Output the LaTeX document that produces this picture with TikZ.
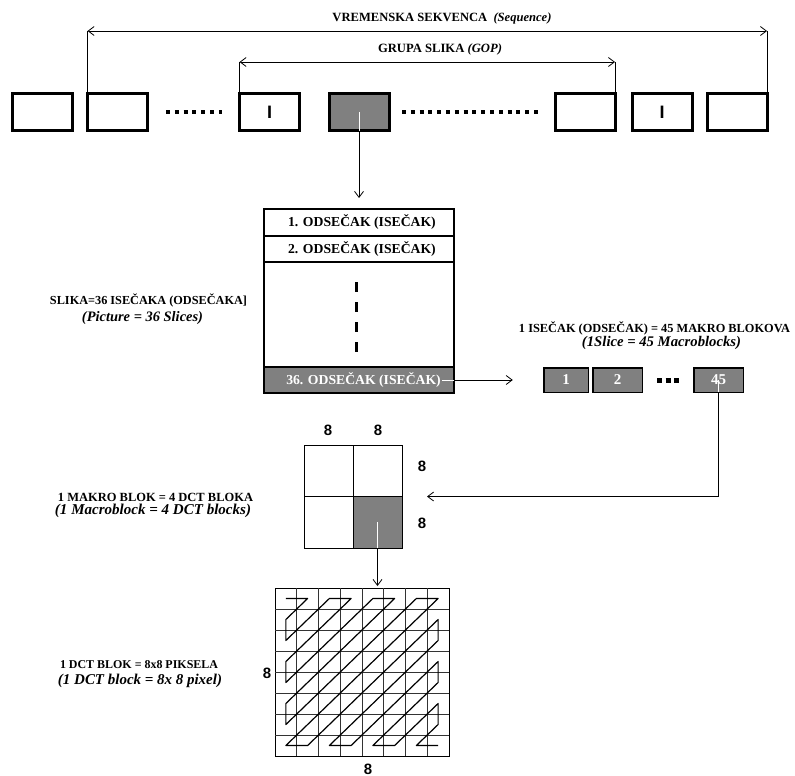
\documentclass[tikz,border=0pt]{standalone}
\usepackage{fontspec}
\setmainfont{Liberation Serif}
\newfontfamily\arialb{Liberation Sans}
\usepackage{graphicx}
\usetikzlibrary{arrows.meta}
\definecolor{boxgray}{RGB}{128,128,128}
\newcommand\fw[2]{\resizebox{#1pt}{!}{#2}}
\begin{document}
\begin{tikzpicture}[x=1pt,y=-1pt,
  frame/.style={draw, line width=3pt, minimum width=60pt, minimum height=37pt, inner sep=0pt, outer sep=0pt},
  row/.style={draw, line width=1.5pt, minimum width=190pt, inner sep=0pt, outer sep=0pt},
  rowtxt/.style={font=\fontsize{13.7}{15}\selectfont\bfseries, inner sep=1pt, anchor=east},
  mblk/.style={draw, line width=1.5pt, fill=boxgray, minimum height=24.5pt, inner sep=0pt, outer sep=0pt, text=white, font=\fontsize{15}{15}\selectfont\bfseries},
  lbl/.style={inner sep=0pt, font=\bfseries},
  eight/.style={inner sep=0pt, font=\arialb\fontsize{15}{15}\selectfont\bfseries},
  ibar/.style={inner sep=0pt, font=\arialb\fontsize{18}{18}\selectfont\bfseries},
  conn/.style={line width=0.8pt, -{Straight Barb[length=6pt,width=9pt]}},
  bar/.style={line width=0.8pt},
  dotrow/.style={line width=4pt, dash pattern=on 4pt off 4.8pt},
]
\useasboundingbox[fill=white] (0,0) rectangle (795,776);

% top frames
\node[frame] (f1) at (42.5,112) {};
\node[frame] (f2) at (117.5,112) {};
\node[frame] (f3) at (269.5,112) {};
\node[frame, fill=boxgray] (f4) at (359,112) {};
\node[frame] (f5) at (585,112) {};
\node[frame] (f6) at (662,112) {};
\node[frame] (f7) at (737,112) {};
\node[ibar] (i3) at (f3.center) {I};
\node[ibar] (i6) at (f6.center) {I};
\draw[dotrow] (166,112) -- (222,112);
\draw[dotrow] (402,112) -- (538,112);

% sequence and GOP spans
\coordinate (seqy) at (0,31);
\coordinate (gopy) at (0,62);
\coordinate (sl) at (f2.north west |- seqy);
\coordinate (sr) at (f7.north east |- seqy);
\coordinate (gl) at (f3.north west |- gopy);
\coordinate (gr) at (f5.north east |- gopy);
\draw[bar] (f2.north west) -- (sl);
\draw[bar] (f7.north east) -- (sr);
\draw[bar] (f3.north west) -- (gl);
\draw[bar] (f5.north east) -- (gr);
\draw[line width=0.8pt, {Straight Barb[length=6pt,width=9pt]}-{Straight Barb[length=6pt,width=9pt]}] (sl) -- (sr);
\draw[line width=0.8pt, {Straight Barb[length=6pt,width=9pt]}-{Straight Barb[length=6pt,width=9pt]}] (gl) -- (gr);
\node[lbl] (tseq) at (442,18) {\fw{219}{\textbf{VREMENSKA SEKVENCA\ \ \textit{(Sequence)}}}};
\node[lbl] (tgop) at (440,49) {\fw{124}{\textbf{GRUPA SLIKA \textit{(GOP)}}}};

% picture block
\node[row, minimum height=27pt] (s1) at (359,222.5) {};
\node[row, minimum height=26pt] (s2) at (359,249) {};
\node[row, minimum height=105pt] (sm) at (359,314.5) {};
\node[row, minimum height=26pt, fill=boxgray] (s36) at (359,380) {};
\node[rowtxt] (t1) at (437,222.5) {1. ODSEČAK (ISEČAK)};
\node[rowtxt] (t2) at (437,249) {2. ODSEČAK (ISEČAK)};
\node[rowtxt, text=white] (t36) at (442,380) {36. ODSEČAK (ISEČAK)};
\draw[line width=3pt, dash pattern=on 10pt off 10pt] (356,282) -- (356,352);

\node[lbl] (ls1) at (148.5,300) {\fw{197}{\textbf{SLIKA=36 ISEČAKA (ODSEČAKA]}}};
\node[lbl] (ls2) at (142.5,318) {\fw{121}{\textbf{\textit{(Picture = 36 Slices)}}}};

% macroblocks
\node[mblk, minimum width=44.5pt] (m1) at (566,380) {1};
\node[mblk, minimum width=49.5pt] (m2) at (617.5,380) {2};
\node[mblk, minimum width=49.5pt] (m45) at (718.5,380) {45};
\draw[line width=5pt, dash pattern=on 5pt off 3.5pt] (657,380) -- (679,380);
\node[lbl] (li1) at (654.5,328) {\fw{271}{\textbf{1 ISEČAK (ODSEČAK) = 45 MAKRO BLOKOVA}}};
\node[lbl] (li2) at (661.5,343) {\fw{159}{\textbf{\textit{(1Slice = 45 Macroblocks)}}}};

% macroblock = 4 DCT blocks
\node[fill=boxgray, minimum width=49pt, minimum height=52pt, inner sep=0pt, outer sep=0pt] (gc) at (377.5,522) {};
\node[draw, line width=1pt, minimum width=98pt, minimum height=103pt, inner sep=0pt, outer sep=0pt] (mb) at (353,496.5) {};
\draw[line width=1pt] (mb.north) -- (mb.south);
\draw[line width=1pt] (mb.west) -- (mb.east);
\node[eight] (e1) at (328,430) {8};
\node[eight] (e2) at (378,430) {8};
\node[eight] (e3) at (422,466) {8};
\node[eight] (e4) at (422,523) {8};
\node[lbl] (lm1) at (155.5,497) {\fw{195}{\textbf{1 MAKRO BLOK = 4 DCT BLOKA}}};
\node[lbl] (lm2) at (153,511) {\fw{196}{\textbf{\textit{(1 Macroblock = 4 DCT blocks)}}}};

% DCT block
\node[draw, line width=1pt, minimum width=174pt, minimum height=168pt, inner sep=0pt, outer sep=0pt] (dct) at (362,672) {};
\begin{scope}[shift={(275,588)}, x=21.75pt, y=-21pt]
  \foreach \i in {1,...,7} {
    \draw[line width=1pt, black!80] (\i,0) -- (\i,8);
    \draw[line width=1pt, black!80] (0,\i) -- (8,\i);
  }
  \draw[line width=1.2pt, black, line join=round]
    (0.5,0.5) -- (1.5,0.5) -- (0.5,1.5) -- (0.5,2.5) -- (2.5,0.5) -- (3.5,0.5)
    -- (0.5,3.5) -- (0.5,4.5) -- (4.5,0.5) -- (5.5,0.5) -- (0.5,5.5) -- (0.5,6.5)
    -- (6.5,0.5) -- (7.5,0.5) -- (0.5,7.5) -- (1.5,7.5) -- (7.5,1.5) -- (7.5,2.5)
    -- (2.5,7.5) -- (3.5,7.5) -- (7.5,3.5) -- (7.5,4.5) -- (4.5,7.5) -- (5.5,7.5)
    -- (7.5,5.5) -- (7.5,6.5) -- (6.5,7.5) -- (7.5,7.5);
\end{scope}
\node[eight] (e5) at (267,673) {8};
\node[eight] (e6) at (368,769) {8};
\node[lbl] (ld1) at (139,665) {\fw{158}{\textbf{1 DCT BLOK = 8x8 PIKSELA}}};
\node[lbl] (ld2) at (140,681) {\fw{164}{\textbf{\textit{(1 DCT block = 8x 8 pixel)}}}};

% connectors
\draw[white, line width=0.8pt] (f4.center) -- (f4.south);
\draw[conn, shorten >=11pt] (f4.south) -- (s1.north);
\draw[white, line width=0.8pt] (t36.east) -- (s36.east);
\draw[conn, shorten >=31pt] (s36.east) -- (m1.west);
\draw[white, line width=0.8pt] (m45.center) -- (m45.south);
\draw[conn, shorten >=25pt] (m45.south) |- (mb.east);
\draw[white, line width=0.8pt] (gc.center) -- (gc.south);
\draw[conn, shorten >=2pt] (gc.south) -- (gc.south |- dct.north);
\end{tikzpicture}
\end{document}
